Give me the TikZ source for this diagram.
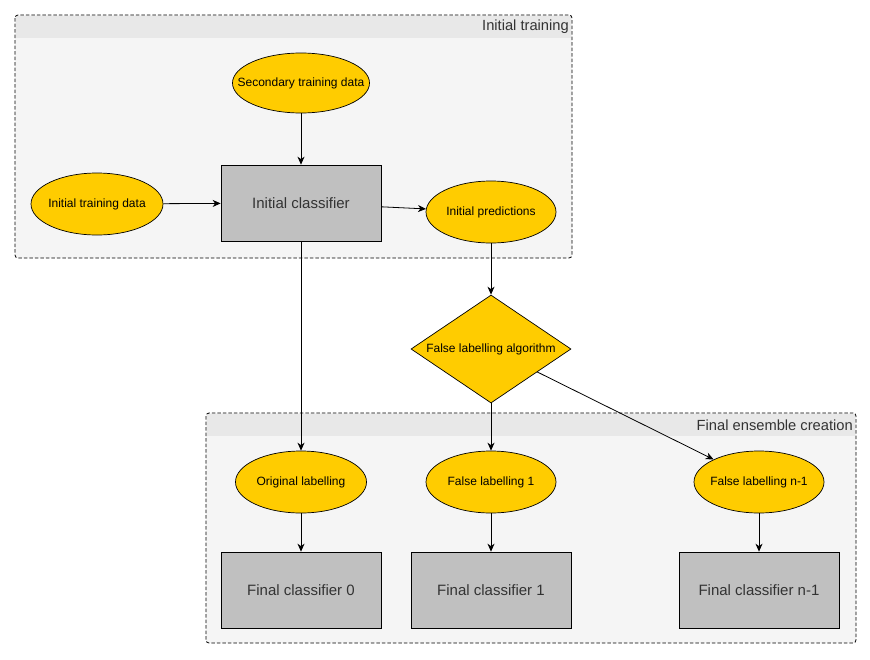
\documentclass[tikz,border=0pt]{standalone}
\usepackage{fontspec}
\setmainfont{Liberation Sans}
\usetikzlibrary{shapes.geometric,arrows.meta}
\definecolor{yel}{HTML}{FFCC00}
\definecolor{boxgray}{HTML}{C0C0C0}
\definecolor{grpbody}{HTML}{F5F5F5}
\definecolor{grphead}{HTML}{E8E8E8}
\definecolor{txtgray}{HTML}{333333}
\newcommand{\zw}[1]{\makebox[0pt]{#1}}
\tikzset{
  dataell/.style={ellipse, draw=black, line width=0.7pt, fill=yel, inner sep=0pt, font=\fontsize{12}{14}\selectfont},
  clsbox/.style={rectangle, draw=black, line width=0.7pt, fill=boxgray, minimum width=160pt, minimum height=76pt, inner sep=0pt, text=txtgray, font=\fontsize{15}{17}\selectfont},
  decis/.style={diamond, draw=black, line width=0.7pt, fill=yel, minimum width=160pt, minimum height=108pt, inner sep=0pt, font=\fontsize{12}{14}\selectfont},
  conn/.style={draw=black, line width=0.8pt, -{Stealth[length=8pt,width=7pt,inset=2.5pt]}},
  grpframe/.style={draw=black, dash pattern=on 3.5pt off 2pt, line width=0.8pt, rounded corners=3pt},
  grptitle/.style={anchor=east, text=txtgray, font=\fontsize{14.7}{16}\selectfont, inner sep=0pt}
}
\begin{document}
\begin{tikzpicture}[x=1pt,y=-1pt]
\useasboundingbox (0,0) rectangle (870,659);
% group 1
\fill[grpbody, rounded corners=3pt] (15,15) rectangle (572,258);
\fill[grphead] (16,16) rectangle (571,38);
\draw[grpframe] (15,15) rectangle (572,258);
\node[grptitle] (t1) at (569,27) {Initial training};
% group 2
\fill[grpbody, rounded corners=3pt] (206,413) rectangle (856,643);
\fill[grphead] (207,414) rectangle (855,436);
\draw[grpframe] (206,413) rectangle (856,643);
\node[grptitle] (t2) at (853,425) {Final ensemble creation};
% nodes
\node[dataell, minimum width=137pt, minimum height=60pt] (sec) at (301,83) {\zw{Secondary training data}};
\node[dataell, minimum width=132pt, minimum height=62pt] (itd) at (97,204) {\zw{Initial training data}};
\node[clsbox] (ic) at (301,203) {Initial classifier};
\node[dataell, minimum width=130pt, minimum height=62pt] (ip) at (491,212) {\zw{Initial predictions}};
\node[decis] (fla) at (491,349) {\zw{False labelling algorithm}};
\node[dataell, minimum width=131pt, minimum height=62pt] (ol) at (301,482) {\zw{Original labelling}};
\node[dataell, minimum width=130pt, minimum height=62pt] (fl1) at (491,482) {\zw{False labelling 1}};
\node[dataell, minimum width=130pt, minimum height=62pt] (fln) at (759,482) {\zw{False labelling n-1}};
\node[clsbox] (fc0) at (301,590) {Final classifier 0};
\node[clsbox] (fc1) at (491,590) {Final classifier 1};
\node[clsbox] (fcn) at (759,590) {Final classifier n-1};
% connectors
\draw[conn] (sec) -- (ic);
\draw[conn] (itd) -- (ic);
\draw[conn] (ic) -- (ip);
\draw[conn] (ip) -- (fla);
\draw[conn] (ic) -- (ol);
\draw[conn] (fla) -- (fl1);
\draw[conn] (fla) -- (fln);
\draw[conn] (ol) -- (fc0);
\draw[conn] (fl1) -- (fc1);
\draw[conn] (fln) -- (fcn);
\end{tikzpicture}
\end{document}
